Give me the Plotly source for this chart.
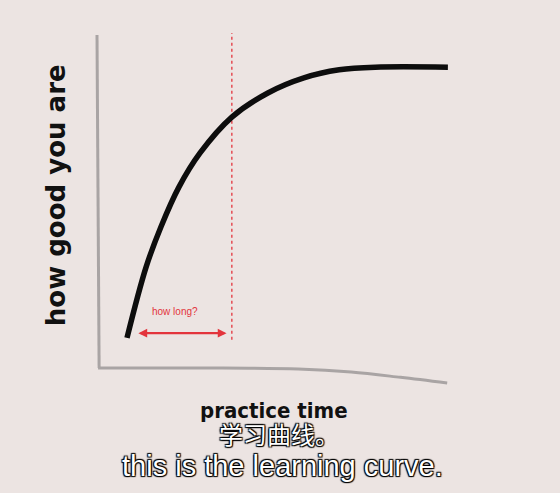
import plotly.graph_objects as go

# Learning curve (practice time vs. how good you are)
practice_time = [0.85, 1.39, 1.81, 2.32, 2.92, 3.82, 4.84, 5.86, 6.86, 7.88, 9.94]
skill = [0.96, 3.07, 4.27, 5.46, 6.48, 7.55, 8.27, 8.72, 8.96, 9.04, 9.04]

# hand-drawn axis lines
x_axis_x = [0.03, 3.0, 5.7, 7.2, 8.6, 9.92]
x_axis_y = [0.06, 0.06, 0.03, -0.06, -0.22, -0.39]
y_axis_x = [0.0, 0.03, 0.06]
y_axis_y = [10.0, 5.0, 0.06]

marker_time = 3.82          # "how long?" dotted line
arrow_start = 1.13
arrow_level = 1.10

y_label = "how good you are"
x_label = "practice time"
question = "how long?"
subtitle_cn = "学习曲线。"
subtitle_en = "this is the learning curve."

BG = "#ece4e2"
RED = "#e3343c"
GRAY = "#a9a4a4"

fig = go.Figure()
fig.add_trace(go.Scatter(x=y_axis_x, y=y_axis_y, mode="lines",
                         line=dict(color=GRAY, width=3), hoverinfo="skip"))
fig.add_trace(go.Scatter(x=x_axis_x, y=x_axis_y, mode="lines",
                         line=dict(color=GRAY, width=3, shape="spline"), hoverinfo="skip"))
fig.add_trace(go.Scatter(x=[marker_time, marker_time], y=[0.9, 10.06], mode="lines",
                         line=dict(color=RED, width=1.3, dash="dot"), hoverinfo="skip"))
fig.add_trace(go.Scatter(x=practice_time, y=skill, mode="lines",
                         line=dict(color="#0d0d0d", width=5.5, shape="spline", smoothing=1.0)))

shadow = "1px 1px 1px #000, -1px -1px 1px #000, 1px -1px 1px #000, -1px 1px 1px #000"
hand = "DejaVu Sans Condensed, DejaVu Sans"

fig.add_annotation(x=marker_time - 0.15, y=arrow_level, ax=arrow_start, ay=arrow_level,
                   xref="x", yref="y", axref="x", ayref="y", text="",
                   showarrow=True, arrowhead=2, startarrowhead=2, arrowside="end+start",
                   arrowsize=0.8, startarrowsize=0.8, arrowwidth=2.2, arrowcolor=RED)
fig.add_annotation(x=2.21, y=1.76, xref="x", yref="y", text=question, showarrow=False,
                   font=dict(family="Liberation Sans Narrow, Liberation Sans", size=10, color=RED))
fig.add_annotation(x=-1.16, y=5.22, xref="x", yref="y", text=y_label, textangle=-90,
                   showarrow=False, font=dict(family="DejaVu Sans", size=26, color="#111", weight="bold"))
fig.add_annotation(x=5.01, y=-1.22, xref="x", yref="y", text=x_label, showarrow=False,
                   font=dict(family=hand, size=22, color="#111", weight="bold"))
fig.add_annotation(x=5.16, y=-1.9, xref="x", yref="y", text=subtitle_cn, showarrow=False,
                   font=dict(family="Noto Sans CJK SC", size=24, color="white", shadow=shadow))
fig.add_annotation(x=5.26, y=-2.88, xref="x", yref="y", text=subtitle_en, showarrow=False,
                   font=dict(family="Liberation Sans, Arial", size=29, color="white", shadow=shadow))

fig.update_layout(
    width=560, height=493,
    margin=dict(l=0, r=0, t=0, b=0),
    paper_bgcolor=BG, plot_bgcolor=BG,
    showlegend=False,
    xaxis=dict(range=[-2.748, 13.116], visible=False, fixedrange=True),
    yaxis=dict(range=[-3.672, 11.045], visible=False, fixedrange=True),
)
fig.update_annotations(xanchor="center", yanchor="middle")
fig.write_html("out.html", post_script="document.body.style.margin='0';",
               config={"displayModeBar": False})
